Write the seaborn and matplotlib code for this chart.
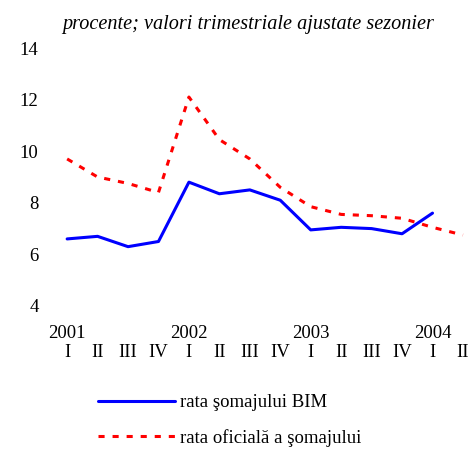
import numpy as np
import pandas as pd
import seaborn as sns
import matplotlib.pyplot as plt

# quarterly data, 2001 Q1 .. 2004 Q2
years = ['2001', '2002', '2003', '2004']
quarters = ['I', 'II', 'III', 'IV', 'I', 'II', 'III', 'IV', 'I', 'II', 'III', 'IV', 'I', 'II']
bim = [6.6, 6.7, 6.3, 6.5, 8.8, 8.35, 8.5, 8.1, 6.95, 7.05, 7.0, 6.8, 7.6]
oficiala = [9.7, 9.0, 8.75, 8.4, 12.1, 10.45, 9.7, 8.6, 7.85, 7.55, 7.5, 7.4, 7.05, 6.75]

lbl_bim = 'rata şomajului BIM'
lbl_of = 'rata oficială a şomajului'

df = pd.concat([
    pd.DataFrame({'t': range(len(bim)), 'val': bim, 'serie': lbl_bim}),
    pd.DataFrame({'t': range(len(oficiala)), 'val': oficiala, 'serie': lbl_of}),
])

sns.set_style('white')
plt.rcParams['font.family'] = ['Liberation Serif', 'DejaVu Serif']
plt.rcParams['text.color'] = 'black'
plt.rcParams['xtick.color'] = 'black'
plt.rcParams['ytick.color'] = 'black'

fig = plt.figure(figsize=(4.72, 4.5), dpi=100)
ax = fig.add_axes([58 / 472, 1 - 306 / 450, (466 - 58) / 472, 258 / 450])

sns.lineplot(data=df, x='t', y='val', hue='serie', style='serie',
             palette={lbl_bim: '#0000ff', lbl_of: '#ff0000'},
             dashes={lbl_bim: '', lbl_of: (2, 2.6)},
             linewidth=2.2, ax=ax)

ax.set_xlim(-0.3, 13.1)
ax.set_ylim(4, 14)
ax.set_yticks(range(4, 15, 2))
xlabels = []
for i, q in enumerate(quarters):
    if q == 'I':
        xlabels.append(years[i // 4] + '\n' + q)
    else:
        xlabels.append('\n' + q)
ax.set_xticks(range(len(quarters)))
ax.set_xticklabels(xlabels, fontsize=13.5, linespacing=1.15)
ax.tick_params(axis='y', labelsize=13.5, length=0, pad=14)
ax.tick_params(axis='x', length=0, pad=14)
ax.set_xlabel('')
ax.set_ylabel('')
for s in ax.spines.values():
    s.set_visible(False)

fig.text(248 / 472, 1 - 25 / 450, 'procente; valori trimestriale ajustate sezonier',
         ha='center', va='center', fontsize=14.6, style='italic')

h, l = ax.get_legend_handles_labels()
ax.legend(h, l, loc='upper left', bbox_to_anchor=(98 / 472, 1 - 394 / 450),
          bbox_transform=fig.transFigure, frameon=False, fontsize=13.5,
          handlelength=4.1, handletextpad=0.3, labelspacing=0.95,
          borderpad=0, borderaxespad=0)

fig.savefig('out.png', dpi=100)
